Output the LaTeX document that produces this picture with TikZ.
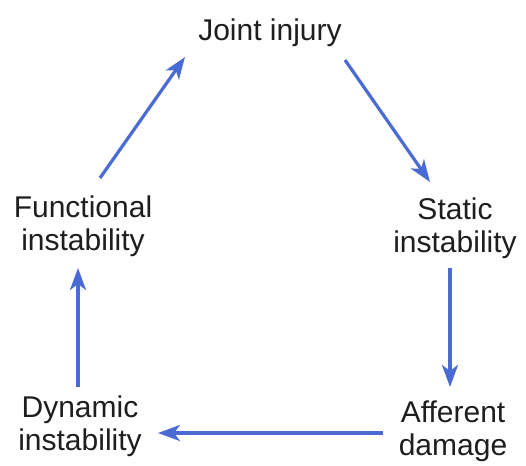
\documentclass[tikz,border=0pt]{standalone}
\usepackage{fontspec}
\setmainfont{Liberation Sans}
\usetikzlibrary{arrows.meta,calc}
\definecolor{arrblue}{RGB}{74,106,212}
\definecolor{txt}{RGB}{30,30,30}
\begin{document}
\begin{tikzpicture}[x=1pt,y=1pt,
  lbl/.style={align=center,inner sep=0pt,text=txt,font=\fontsize{30}{33}\selectfont},
  arr/.style={draw=arrblue,line width=3.2pt,-{Stealth[length=22pt,width=16pt,inset=6pt]}}]
\useasboundingbox[fill=white] (0,0) rectangle (526,-465);
\node[lbl] (joint) at (270,-33) {Joint injury};
\node[lbl] (func) at (83,-226) {Functional\\instability};
\node[lbl] (static) at (455,-228) {Static\\instability};
\node[lbl] (afferent) at (453,-431) {Afferent\\damage};
\node[lbl] (dynamic) at (80,-426) {Dynamic\\instability};
\draw[arr] ($(func.center)+(17,48)$) -- ($(joint.center)+(-85,-24)$);
\draw[arr] ($(joint.center)+(75,-27)$) -- ($(static.center)+(-25,46)$);
\draw[arr] ($(static.center)+(-5,-40)$) -- ($(afferent.center)+(-3,44)$);
\draw[arr] ($(afferent.center)+(-70,-2)$) -- ($(dynamic.center)+(78,-7)$);
\draw[arr] ($(dynamic.center)+(-2,39)$) -- ($(func.center)+(-5,-42)$);
\end{tikzpicture}
\end{document}
